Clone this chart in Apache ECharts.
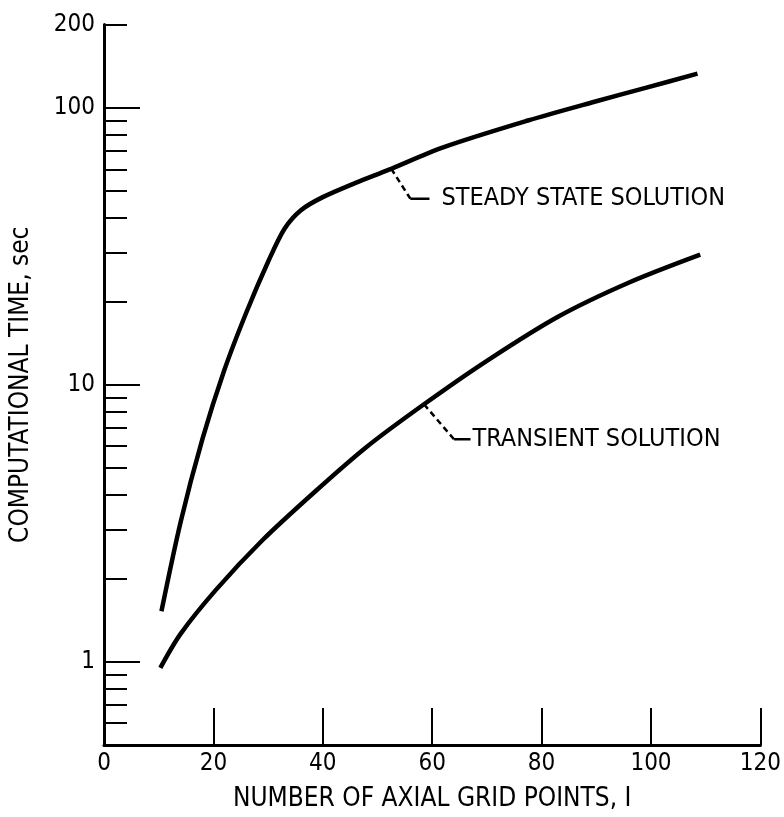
<!DOCTYPE html>
<html lang="en">
<head>
    <meta charset="UTF-8">
    <title>Computational time vs axial grid points</title>
    <script src="https://cdn.jsdelivr.net/npm/echarts@6/dist/echarts.min.js"></script>
    <style>
        html, body { margin: 0; padding: 0; background: #fff; }
        #chart { width: 784px; height: 817px; }
    </style>
</head>
<body>
    <div id="chart"></div>
    <script>
        // values
        var steadyX = [10.5, 14, 18, 22, 26, 30, 33, 36, 40, 46, 52, 62, 77.5, 89.5, 99, 108.5];
        var steadyY = [1.52, 3.19, 6.37, 11.3, 18.2, 27.8, 36.6, 42.7, 47.6, 53.6, 59.7, 72, 90, 105, 118, 133];
        var transientX = [10.3, 14, 20.5, 29, 38.5, 48, 58.5, 70, 83, 96, 109];
        var transientY = [0.95, 1.26, 1.82, 2.75, 4.1, 5.96, 8.5, 12.2, 17.6, 23.4, 29.5];

        var yMajorTicks = [1, 10, 100, 200];
        var yMinorTicks = [0.6, 0.7, 0.8, 0.9, 2, 3, 4, 5, 6, 7, 8, 9, 20, 30, 40, 50, 60, 70, 80, 90];

        // leader lines for the curve labels: [curve point, elbow, end]
        var steadyLeader = [[52.5, 60.3], [56, 47], [59.5, 47]];
        var transientLeader = [[58.5, 8.5], [64, 6.35], [67, 6.35]];

        var font = '"Liberation Sans Narrow", "DejaVu Sans Condensed", "Liberation Sans", sans-serif';

        function pairs(xs, ys) {
            return xs.map(function (x, i) { return [x, ys[i]]; });
        }

        function leader(pts, text, gap) {
            return [{
                type: 'line',
                data: pts.slice(0, 2),
                showSymbol: false,
                silent: true,
                lineStyle: { color: '#000', width: 2.5, type: [6, 4] }
            }, {
                type: 'line',
                data: pts.slice(1, 3),
                showSymbol: false,
                silent: true,
                lineStyle: { color: '#000', width: 2.5 },
                endLabel: {
                    show: true,
                    formatter: text,
                    distance: gap,
                    color: '#000',
                    fontFamily: font,
                    fontSize: 25
                }
            }];
        }

        var myChart = echarts.init(document.getElementById('chart'));
        var option = {
            animation: false,
            backgroundColor: '#fff',
            textStyle: { fontFamily: font },
            grid: { left: 104, right: 17.5, top: 24.5, bottom: 71.5 },
            xAxis: {
                type: 'value',
                min: 0,
                max: 120,
                interval: 20,
                name: 'NUMBER OF AXIAL GRID POINTS, I',
                nameLocation: 'middle',
                nameGap: 41,
                nameTextStyle: { color: '#000', fontSize: 26, fontFamily: font },
                axisLine: { lineStyle: { color: '#000', width: 3 } },
                axisTick: { inside: true, length: 37, lineStyle: { color: '#000', width: 2 } },
                axisLabel: { color: '#000', fontSize: 24, margin: 7, fontFamily: font },
                splitLine: { show: false }
            },
            yAxis: [{
                type: 'log',
                logBase: 10,
                min: 0.5,
                max: 200,
                position: 'left',
                name: 'COMPUTATIONAL TIME, sec',
                nameLocation: 'middle',
                nameRotate: 90,
                nameGap: 70,
                nameTextStyle: { color: '#000', fontSize: 26, fontFamily: font },
                axisLine: { lineStyle: { color: '#000', width: 3 } },
                axisTick: {
                    inside: true,
                    length: 36,
                    customValues: yMajorTicks.slice(0, 3),
                    lineStyle: { color: '#000', width: 2 }
                },
                axisLabel: {
                    color: '#000',
                    fontSize: 24,
                    margin: 9,
                    fontFamily: font,
                    customValues: yMajorTicks
                },
                splitLine: { show: false }
            }, {
                type: 'log',
                logBase: 10,
                min: 0.5,
                max: 200,
                position: 'left',
                offset: 0,
                axisLine: { show: false },
                axisTick: {
                    inside: true,
                    length: 23,
                    customValues: yMinorTicks.concat([200]),
                    lineStyle: { color: '#000', width: 2 }
                },
                axisLabel: { show: false },
                splitLine: { show: false }
            }],
            series: [{
                name: 'STEADY STATE SOLUTION',
                type: 'line',
                data: pairs(steadyX, steadyY),
                smooth: 0.3,
                showSymbol: false,
                lineStyle: { color: '#000', width: 4.5 }
            }, {
                name: 'TRANSIENT SOLUTION',
                type: 'line',
                data: pairs(transientX, transientY),
                smooth: 0.3,
                showSymbol: false,
                lineStyle: { color: '#000', width: 4.5 }
            }].concat(leader(steadyLeader, 'STEADY STATE SOLUTION', 12))
              .concat(leader(transientLeader, 'TRANSIENT SOLUTION', 2))
        };
        myChart.setOption(option);
    </script>
</body>
</html>
